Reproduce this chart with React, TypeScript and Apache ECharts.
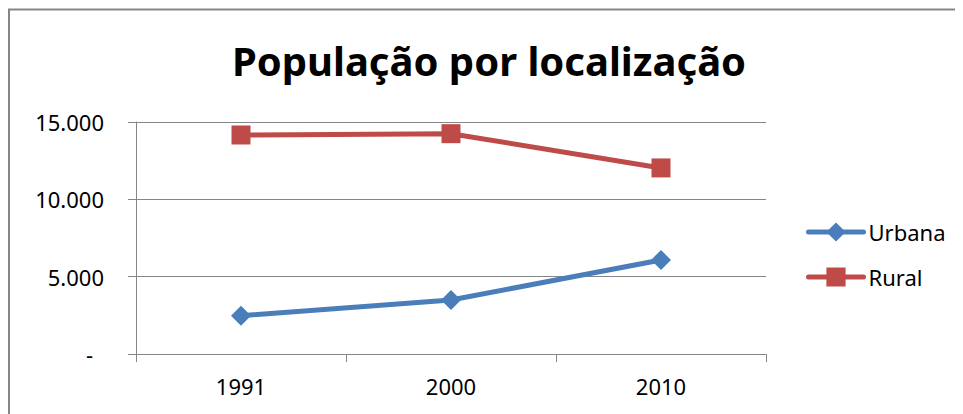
import React, { useEffect, useRef } from "react";
import * as echarts from "echarts";

const categories = ["1991", "2000", "2010"];
const urbana = [2480, 3490, 6080];
const rural = [14160, 14245, 12030];
const seriesNames = ["Urbana", "Rural"];
const titleText = "População por localização";

const FONT = "Noto Sans";

function fmt(v: number): string {
  if (v === 0) return "{d|-}";
  return String(v).replace(/\B(?=(\d{3})+(?!\d))/g, ".");
}

export default function App() {
  const ref = useRef<HTMLDivElement>(null);
  useEffect(() => {
    if (!ref.current) return;
    const chart = echarts.init(ref.current, undefined, { renderer: "svg" });
    chart.setOption({
      animation: false,
      backgroundColor: "#ffffff",
      graphic: [
        {
          type: "rect",
          shape: { x: 1, y: 1.5, width: 2000, height: 2000 },
          style: { fill: "none", stroke: "#868686", lineWidth: 2 },
          silent: true,
        },
        {
          type: "text",
          x: 481,
          y: 52,
          style: {
            text: titleText,
            font: `bold 40px "${FONT}"`,
            fill: "#000000",
            align: "center",
            verticalAlign: "middle",
          },
        },
      ],
      grid: { left: 128, right: 197, top: 114, bottom: 60, containLabel: false },
      legend: {
        orient: "vertical",
        left: 793,
        top: 208,
        itemWidth: 55,
        itemHeight: 24,
        itemGap: 23,
        lineStyle: { width: 5, cap: "round" },
        textStyle: { fontFamily: FONT, fontSize: 22, color: "#000" },
        data: seriesNames,
      },
      xAxis: {
        type: "category",
        data: categories,
        boundaryGap: true,
        axisLine: { lineStyle: { color: "#868686", width: 1 } },
        axisTick: { show: true, length: 8, lineStyle: { color: "#868686" } },
        axisLabel: { fontFamily: FONT, fontSize: 22, color: "#000", margin: 21 },
      },
      yAxis: {
        type: "value",
        min: 0,
        max: 15000,
        interval: 5000,
        axisLine: { show: true, lineStyle: { color: "#868686", width: 1 } },
        axisTick: { show: true, length: 8, lineStyle: { color: "#868686" } },
        splitLine: { show: true, lineStyle: { color: "#868686", width: 1 } },
        axisLabel: {
          fontFamily: FONT,
          fontSize: 22,
          color: "#000",
          margin: 32,
          formatter: fmt,
          rich: { d: { fontFamily: FONT, fontSize: 22, color: "#000", padding: [0, 11, 0, 0] } },
        },
      },
      series: [
        {
          name: seriesNames[0],
          type: "line",
          data: urbana,
          symbol: "diamond",
          symbolSize: 20,
          lineStyle: { color: "#4A7EBB", width: 5, cap: "round" },
          itemStyle: { color: "#4A7EBB" },
        },
        {
          name: seriesNames[1],
          type: "line",
          data: rural,
          symbol: "rect",
          symbolSize: 19,
          lineStyle: { color: "#BE4B48", width: 5, cap: "round" },
          itemStyle: { color: "#BE4B48" },
        },
      ],
    });
    return () => chart.dispose();
  }, []);
  return <div ref={ref} style={{ width: 955, height: 406 }} />;
}
